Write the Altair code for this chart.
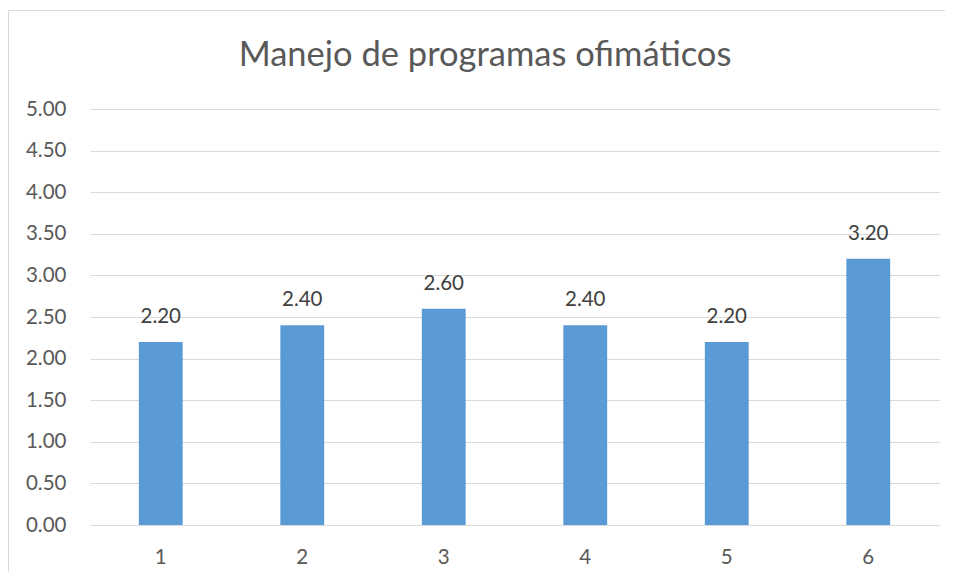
import altair as alt
import pandas as pd

title_text = "Manejo de programas ofimáticos"
categories = ["1", "2", "3", "4", "5", "6"]
values = [2.20, 2.40, 2.60, 2.40, 2.20, 3.20]
y_ticks = [0, 0.5, 1, 1.5, 2, 2.5, 3, 3.5, 4, 4.5, 5]

df = pd.DataFrame({"cat": categories, "val": values})

FONT = "Lato"
FS = 20.5
W, H = 849, 416

x_enc = alt.X("cat:N", sort=categories, title=None,
              scale=alt.Scale(paddingInner=0.69, paddingOuter=0.345),
              axis=alt.Axis(labelAngle=0, ticks=False, domain=False, grid=False,
                            labelFont=FONT, labelFontSize=FS, labelColor="#595959",
                            labelBaseline="alphabetic", labelPadding=38))
y_enc = alt.Y("val:Q", title=None,
              scale=alt.Scale(domain=[0, 5], nice=False),
              axis=alt.Axis(values=y_ticks, format=".2f", ticks=False, domain=False,
                            grid=True, gridColor="#D9D9D9", gridWidth=1,
                            labelFont=FONT, labelFontSize=FS, labelColor="#595959",
                            labelPadding=24))

one = pd.DataFrame({"b": [0]})
border_top = alt.Chart(one).mark_rule(color="#D9D9D9", strokeWidth=1).encode(
    x=alt.value(-81.5), x2=alt.value(870), y=alt.value(-98.5))
border_left = alt.Chart(one).mark_rule(color="#D9D9D9", strokeWidth=1).encode(
    x=alt.value(-81.5), y=alt.value(-98.5), y2=alt.value(480))

bars = alt.Chart(df).mark_bar(color="#5B9BD5").encode(x=x_enc, y=y_enc)

labels = alt.Chart(df).mark_text(
    font=FONT, fontSize=FS, color="#404040", baseline="alphabetic", dy=-19
).encode(x=alt.X("cat:N", sort=categories), y="val:Q", text=alt.Text("val:Q", format=".2f"))

title = alt.Chart(pd.DataFrame({"t": [title_text]})).mark_text(
    font=FONT, fontSize=34.5, color="#595959", baseline="alphabetic", align="center"
).encode(x=alt.value(395), y=alt.value(-43), text="t:N")

chart = alt.layer(border_top, border_left, bars, labels, title).properties(
    width=W, height=H,
    autosize=alt.AutoSizeParams(type="none"),
    padding={"left": 82, "top": 101, "right": 6, "bottom": 47},
).configure_view(stroke=None)

chart.save("out.html", embed_options={"renderer": "svg", "actions": False})
